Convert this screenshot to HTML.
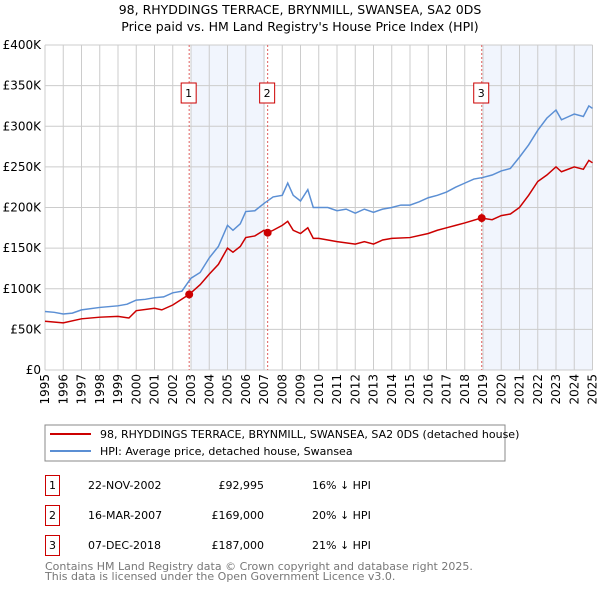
<!DOCTYPE html>
<html><head><meta charset="utf-8"><style>
body{margin:0;background:#fff;font-family:"DejaVu Sans","Liberation Sans",sans-serif;}
svg text{font-family:"DejaVu Sans","Liberation Sans",sans-serif;}
</style></head><body>
<svg id="c" width="600" height="590" xmlns="http://www.w3.org/2000/svg">
<text x="300" y="14" text-anchor="middle" font-size="12.5">98, RHYDDINGS TERRACE, BRYNMILL, SWANSEA, SA2 0DS</text>
<text x="300" y="31" text-anchor="middle" font-size="12.5">Price paid vs. HM Land Registry's House Price Index (HPI)</text>
<g id="plot"></g>
<rect x="45" y="425" width="460" height="36" fill="#fff" stroke="#888"/>
<line x1="50" y1="434" x2="91" y2="434" stroke="#cc0000" stroke-width="2"/>
<text x="100" y="438" font-size="11">98, RHYDDINGS TERRACE, BRYNMILL, SWANSEA, SA2 0DS (detached house)</text>
<line x1="50" y1="451" x2="91" y2="451" stroke="#5b8fd4" stroke-width="2"/>
<text x="100" y="455" font-size="11">HPI: Average price, detached house, Swansea</text>
<g font-size="11">
<rect x="45.5" y="475.5" width="14" height="20" fill="none" stroke="#cc0000"/><text x="52.5" y="489" text-anchor="middle">1</text>
<text x="88" y="489">22-NOV-2002</text><text x="264" y="489" text-anchor="end">£92,995</text><text x="312" y="489">16% ↓ HPI</text>
<rect x="45.5" y="505.5" width="14" height="20" fill="none" stroke="#cc0000"/><text x="52.5" y="519" text-anchor="middle">2</text>
<text x="88" y="519">16-MAR-2007</text><text x="264" y="519" text-anchor="end">£169,000</text><text x="312" y="519">20% ↓ HPI</text>
<rect x="45.5" y="535.5" width="14" height="20" fill="none" stroke="#cc0000"/><text x="52.5" y="549" text-anchor="middle">3</text>
<text x="88" y="549">07-DEC-2018</text><text x="264" y="549" text-anchor="end">£187,000</text><text x="312" y="549">21% ↓ HPI</text>
</g>
<text x="45" y="570" font-size="11" fill="#777">Contains HM Land Registry data © Crown copyright and database right 2025.</text>
<text x="45" y="580" font-size="11" fill="#777">This data is licensed under the Open Government Licence v3.0.</text>
</svg>
<script>
const yTicks=[0,50,100,150,200,250,300,350,400];
const yTickLabels=["£0","£50K","£100K","£150K","£200K","£250K","£300K","£350K","£400K"];
const years=[1995,1996,1997,1998,1999,2000,2001,2002,2003,2004,2005,2006,2007,2008,2009,2010,2011,2012,2013,2014,2015,2016,2017,2018,2019,2020,2021,2022,2023,2024,2025];
const hpiT=[1995,1995.5,1996,1996.5,1997,1998,1999,1999.5,2000,2000.5,2001,2001.5,2002,2002.5,2003,2003.5,2004,2004.5,2005,2005.3,2005.7,2006,2006.5,2007,2007.5,2008,2008.3,2008.6,2009,2009.4,2009.7,2010,2010.5,2011,2011.5,2012,2012.5,2013,2013.5,2014,2014.5,2015,2015.5,2016,2016.5,2017,2017.5,2018,2018.5,2019,2019.5,2020,2020.5,2021,2021.5,2022,2022.5,2023,2023.3,2023.7,2024,2024.5,2024.8,2025];
const hpiV=[72,71,69,70,74,77,79,81,86,87,89,90,95,97,113,120,138,152,178,172,180,195,196,205,213,215,230,215,208,222,200,200,200,196,198,193,198,194,198,200,203,203,207,212,215,219,225,230,235,237,240,245,248,262,277,295,310,320,308,312,315,312,325,322];
const ppT=[1995,1996,1997,1998,1999,1999.6,2000,2001,2001.4,2002,2002.9,2003.5,2004,2004.5,2005,2005.3,2005.7,2006,2006.5,2007,2007.2,2007.5,2008,2008.3,2008.6,2009,2009.4,2009.7,2010,2011,2012,2012.5,2013,2013.5,2014,2015,2016,2016.5,2017,2017.5,2018,2018.9,2019.5,2020,2020.5,2021,2021.5,2022,2022.5,2023,2023.3,2024,2024.5,2024.8,2025];
const ppV=[60,58,63,65,66,64,73,76,74,80,93,105,118,130,150,145,152,163,165,172,169,172,178,183,172,168,175,162,162,158,155,158,155,160,162,163,168,172,175,178,181,187,185,190,192,200,215,232,240,250,244,250,247,258,255];
const saleT=[2002.9,2007.2,2018.93];
const saleV=[92.995,169,187];
const saleLabels=["1","2","3"];
const X=t=>45+(t-1995)*18.25, Y=v=>370-v*0.8125;
const NS="http://www.w3.org/2000/svg", g=document.getElementById('plot');
function mk(tag,a){const e=document.createElementNS(NS,tag);for(const k in a)e.setAttribute(k,a[k]);g.appendChild(e);return e;}
let e;
e=mk('rect',{x:X(2003),y:Y(400),width:X(2007.05)-X(2003),height:Y(0)-Y(400),fill:'#eef3fc',opacity:0.8});


e=mk('rect',{x:X(2019),y:Y(400),width:X(2025)-X(2019),height:Y(0)-Y(400),fill:'#eef3fc',opacity:0.8});


yTicks.forEach((v,i)=>{
 e=mk('line',{x1:45,x2:X(2025),y1:Y(v),y2:Y(v),stroke:'#ccc'});
 
 
 e=mk('text',{x:41,y:Y(v)+4,'text-anchor':'end','font-size':12});e.textContent=yTickLabels[i];
 
 
});
years.forEach(yr=>{
 e=mk('line',{x1:X(yr),x2:X(yr),y1:Y(400),y2:Y(0),stroke:'#ccc'});
 
 
 e=mk('text',{x:0,y:0,'font-size':12,'text-anchor':'end',transform:`translate(${X(yr)+4},374) rotate(-90)`});e.textContent=yr;
 
 
});
saleT.forEach((t,i)=>{
 e=mk('line',{x1:X(t),x2:X(t),y1:Y(400),y2:Y(0),stroke:'#e06060','stroke-dasharray':'2,2'});
 
 
});
e=mk('polyline',{points:hpiT.map((t,i)=>X(t)+','+Y(hpiV[i])).join(' '),fill:'none',stroke:'#5b8fd4','stroke-width':1.5});


e=mk('polyline',{points:ppT.map((t,i)=>X(t)+','+Y(ppV[i])).join(' '),fill:'none',stroke:'#cc0000','stroke-width':1.5});


saleT.forEach((t,i)=>{
 e=mk('circle',{cx:X(t),cy:Y(saleV[i]),r:4,fill:'#cc0000'});
 
 
 e=mk('rect',{x:X(t)-8,y:83,width:15,height:20,fill:'#fff',stroke:'#cc0000'});
 
 
 e=mk('text',{x:X(t)-0.5,y:97,'text-anchor':'middle','font-size':11});e.textContent=saleLabels[i];
 
 
});
</script>
</body></html>
